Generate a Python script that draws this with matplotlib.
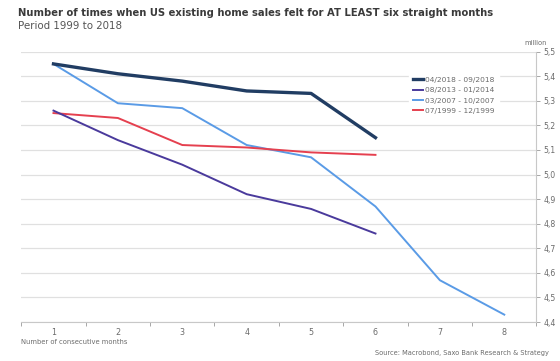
import numpy as np
import matplotlib
matplotlib.use('Agg')
from matplotlib import pyplot as plt

# Datos
meses = [1, 2, 3, 4, 5, 6, 7, 8]
serie_2018 = [5.45, 5.41, 5.38, 5.34, 5.33, 5.15]
serie_2013 = [5.26, 5.14, 5.04, 4.92, 4.86, 4.76]
serie_2007 = [5.45, 5.29, 5.27, 5.12, 5.07, 4.87, 4.57, 4.43]
serie_1999 = [5.25, 5.23, 5.12, 5.11, 5.09, 5.08]
etiquetas = ['04/2018 - 09/2018', '08/2013 - 01/2014', '03/2007 - 10/2007', '07/1999 - 12/1999']
y_ticks = [4.4, 4.5, 4.6, 4.7, 4.8, 4.9, 5.0, 5.1, 5.2, 5.3, 5.4, 5.5]

gris = '#6b6b6b'
fig = plt.figure(figsize=(5.6, 3.61), dpi=100)
ax = fig.add_axes([0.038, 0.108, 0.920, 0.749])

ax.plot(meses[:6], serie_2018, color='#213d63', lw=2.4, label=etiquetas[0], zorder=5)
ax.plot(meses[:6], serie_2013, color='#4a3a9c', lw=1.4, label=etiquetas[1], zorder=4)
ax.plot(meses, serie_2007, color='#5a9be6', lw=1.4, label=etiquetas[2], zorder=3)
ax.plot(meses[:6], serie_1999, color='#e5404f', lw=1.4, label=etiquetas[3], zorder=3)

ax.set_xlim(0.5, 8.5)
ax.set_ylim(4.4, 5.5)
ax.yaxis.tick_right()
ax.set_yticks(y_ticks)
ax.set_yticklabels([('%.1f' % v).replace('.', ',') for v in y_ticks])
ax.set_xticks(meses)
ax.set_xticks(np.arange(0.5, 9.0, 1.0), minor=True)
ax.tick_params(axis='x', which='major', length=0, pad=4, labelsize=5.8, labelcolor=gris)
ax.tick_params(axis='x', which='minor', length=3, color='#999999', width=0.6)
ax.tick_params(axis='y', length=3, color='#999999', width=0.6, pad=2, labelsize=5.6, labelcolor=gris)

ax.grid(axis='y', color='#e0e0e0', lw=0.9)
ax.set_axisbelow(True)
for s in ['top', 'left']:
    ax.spines[s].set_visible(False)
ax.spines['right'].set_color('#c8c8c8')
ax.spines['bottom'].set_color('#c8c8c8')
ax.spines['right'].set_linewidth(0.8)
ax.spines['bottom'].set_linewidth(0.8)

leg = ax.legend(loc='upper left', bbox_to_anchor=(0.745, 0.935), frameon=True, fontsize=5.4,
                handlelength=1.4, handletextpad=0.3, labelspacing=0.55, borderpad=0.5,
                fancybox=False)
leg.get_frame().set_edgecolor('white')
leg.get_frame().set_facecolor('white')
leg.get_frame().set_alpha(1)
for t in leg.get_texts():
    t.set_color(gris)

fig.text(0.032, 0.964, 'Number of times when US existing home sales felt for AT LEAST six straight months',
         fontsize=7.2, fontweight='bold', color='#3a3a3a', va='center')
fig.text(0.032, 0.929, 'Period 1999 to 2018', fontsize=7.4, color='#555555', va='center')
fig.text(0.977, 0.882, 'million', fontsize=4.8, color=gris, ha='right', va='center')
fig.text(0.038, 0.053, 'Number of consecutive months', fontsize=4.9, color=gris, va='center')
fig.text(0.98, 0.022, 'Source: Macrobond, Saxo Bank Research & Strategy', fontsize=4.8,
         color=gris, ha='right', va='center')

fig.savefig('out.png', dpi=100)
